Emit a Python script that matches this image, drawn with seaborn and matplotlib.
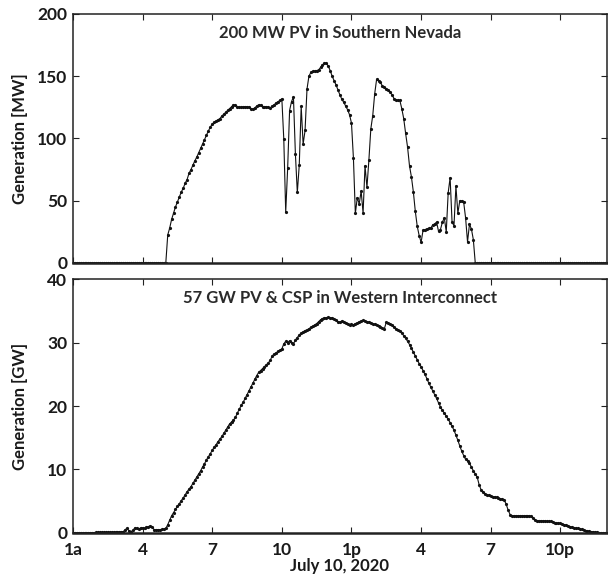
import numpy as np
import pandas as pd
import matplotlib
matplotlib.use("Agg")
import matplotlib.pyplot as plt
import seaborn as sns

# ---------------- data (5-minute samples, hour of day 1 .. 24) ----------------
n_points = 277
hours = 1 + np.arange(n_points) / 12.0

# Southern Nevada 200 MW PV [MW]; zero before 5:05 and after 18:15
nv_night_before = [0.0] * 49          # 1:00 .. 5:00
nv_day = [
    22.5, 28, 35, 40, 45, 49, 53, 57, 60, 64, 67,                      # 5:05-5:55
    72, 75, 78.5, 82, 85, 88.5, 92, 95.5, 99, 102.5, 106, 109,          # 6
    111.5, 113, 114, 115, 116, 118, 119.5, 121, 122.5, 124, 125.5, 127, # 7
    126.5, 125.5, 125, 125, 125.5, 125.5, 125.5, 125, 124, 123.5, 124.5, 126,  # 8
    127, 126.5, 125.5, 125.5, 125.5, 125, 124.5, 126, 127, 128.5, 129.5, 130.5, # 9
    131.8, 99.5, 40.9, 75.9, 122.4, 129.6, 133.2, 87.7, 56.6, 78.6, 125.7, 95.4, # 10
    106.4, 139.6, 150, 153, 154, 154, 154.5, 155, 157, 159, 160.5, 160.5,       # 11
    158, 154.5, 150, 146.5, 143, 139, 135, 131.5, 129, 126, 123, 119,           # 12
    112.3, 84.4, 39.8, 52.4, 47.5, 57.8, 40, 78, 60.7, 82.6, 107.7, 118.4,      # 13
    135.8, 147.5, 146.5, 145, 142, 141, 140, 139, 137, 135, 132, 131,           # 14
    130.5, 130.5, 124, 116, 104, 93, 78, 69, 57, 41.5, 29.5, 22,                # 15
    16.6, 26.3, 26.8, 27.4, 27.7, 28, 30.6, 31.4, 32.8, 25.5, 26.8, 32.8,       # 16
    36.2, 25, 56.4, 68.5, 32.8, 30, 61.7, 40, 50, 49.7, 48.9, 36.2,             # 17
    17, 31, 27.4, 18.8,                                                         # 18:00-18:15
]
nv_night_after = [0.0] * (n_points - len(nv_night_before) - len(nv_day))
nevada_mw = np.array(nv_night_before + nv_day + nv_night_after)

# Western Interconnect 57 GW PV & CSP [GW]
wecc_gw = np.array([
    0.02, 0.02, 0.03, 0.03, 0.03, 0.04, 0.04, 0.05, 0.05, 0.05, 0.06, 0.06,   # 1
    0.07, 0.07, 0.08, 0.08, 0.09, 0.1, 0.1, 0.1, 0.12, 0.12, 0.13, 0.15,      # 2
    0.15, 0.2, 0.2, 0.5, 0.75, 0.3, 0.2, 0.4, 0.8, 0.7, 0.6, 0.8,             # 3
    0.8, 0.7, 0.9, 1.0, 1.1, 0.9, 0.5, 0.5, 0.5, 0.5, 0.55, 0.6,              # 4
    0.7, 1.3, 2.0, 2.7, 3.2, 3.7, 4.2, 4.6, 5.1, 5.5, 6.0, 6.5,               # 5
    6.9, 7.3, 7.8, 8.3, 8.8, 9.3, 9.8, 10.4, 10.9, 11.5, 12.0, 12.5,          # 6
    13.0, 13.5, 13.9, 14.4, 14.8, 15.2, 15.7, 16.2, 16.7, 17.2, 17.5, 17.8,   # 7
    18.2, 18.9, 19.5, 20.1, 20.6, 21.2, 21.8, 22.4, 23.0, 23.6, 24.2, 24.8,   # 8
    25.3, 25.6, 25.9, 26.2, 26.5, 26.8, 27.2, 27.9, 28.2, 28.4, 28.6, 28.8,   # 9
    29.0, 29.8, 30.2, 30.0, 30.3, 30.0, 29.8, 30.4, 30.8, 31.2, 31.5, 31.7,   # 10
    31.9, 32.0, 32.2, 32.4, 32.6, 32.8, 33.0, 33.3, 33.6, 33.8, 33.9, 33.9,   # 11
    34.0, 33.9, 33.9, 33.7, 33.5, 33.3, 33.2, 33.4, 33.3, 33.1, 32.9, 32.8,   # 12
    32.9, 32.8, 33.0, 33.1, 33.3, 33.4, 33.5, 33.4, 33.3, 33.2, 33.1, 33.0,   # 13
    32.9, 32.8, 32.6, 32.5, 32.3, 32.2, 33.2, 33.1, 32.9, 32.7, 32.5, 32.2,   # 14
    32.0, 31.8, 31.5, 31.1, 30.7, 30.2, 29.7, 29.1, 28.5, 27.9, 27.3, 26.7,   # 15
    26.2, 25.6, 25.0, 24.3, 23.6, 23.0, 22.4, 21.8, 21.2, 20.5, 19.9, 19.3,   # 16
    18.9, 18.4, 17.9, 17.4, 16.8, 16.2, 15.4, 14.6, 13.7, 12.9, 12.2, 11.6,   # 17
    11.4, 11.0, 10.4, 9.8, 9.3, 8.8, 7.6, 6.8, 6.4, 6.2, 6.0, 5.9,            # 18
    5.8, 5.7, 5.7, 5.6, 5.5, 5.4, 5.3, 5.2, 4.5, 3.6, 2.9, 2.7,               # 19
    2.7, 2.7, 2.7, 2.7, 2.7, 2.7, 2.7, 2.7, 2.7, 2.6, 2.3, 2.0,               # 20
    1.95, 1.95, 1.9, 1.9, 1.9, 1.85, 1.85, 1.8, 1.7, 1.6, 1.6, 1.5,           # 21
    1.5, 1.4, 1.3, 1.2, 1.1, 1.0, 0.9, 0.8, 0.75, 0.7, 0.6, 0.55,             # 22
    0.45, 0.35, 0.3, 0.25, 0.2, 0.15, 0.1, 0.08, 0.06, 0.05, 0.04, 0.03,      # 23
    0.03,                                                                     # 24:00
])

tick_hours = [1, 4, 7, 10, 13, 16, 19, 22]
tick_labels = ["1a", "4", "7", "10", "1p", "4", "7", "10p"]

top_title = "200 MW PV in Southern Nevada"
bot_title = "57 GW PV & CSP in Western Interconnect"

df_top = pd.DataFrame({"hour": hours, "gen": nevada_mw})
df_bot = pd.DataFrame({"hour": hours, "gen": wecc_gw})

# ---------------- style ----------------
sns.set_theme(style="white")
plt.rcParams["font.family"] = ["Lato", "DejaVu Sans"]
plt.rcParams["font.weight"] = "bold"
plt.rcParams["axes.labelweight"] = "bold"
plt.rcParams["axes.edgecolor"] = "#222222"
plt.rcParams["axes.linewidth"] = 1.1

fig = plt.figure(figsize=(6.08, 5.78), dpi=100)
ax1 = fig.add_axes([0.120, 0.545, 0.878, 0.431])
ax2 = fig.add_axes([0.120, 0.078, 0.878, 0.439])

line_kw = dict(color="#111111", linewidth=0.8, marker="o", markersize=2.3,
               markeredgewidth=0, markerfacecolor="#111111")

sns.lineplot(data=df_top, x="hour", y="gen", ax=ax1, **line_kw)
sns.lineplot(data=df_bot, x="hour", y="gen", ax=ax2, **line_kw)

for ax, ymax, yt, ylab, ttl in [
    (ax1, 200, [0, 50, 100, 150, 200], "Generation [MW]", top_title),
    (ax2, 40, [0, 10, 20, 30, 40], "Generation [GW]", bot_title),
]:
    ax.set_xlim(1, 24)
    ax.set_ylim(0, ymax)
    ax.set_yticks(yt)
    ax.set_xticks(tick_hours)
    ax.tick_params(direction="in", length=4, width=0.8, color="#222222",
                   top=True, right=True, bottom=True, left=True,
                   labelsize=12.5, labelcolor="#1a1a1a")
    ax.tick_params(axis="y", pad=4)
    ax.tick_params(axis="x", pad=6.5)
    ax.set_ylabel(ylab, fontsize=12, fontweight="bold", color="#1a1a1a")
    ax.text(0.5, 0.925, ttl, transform=ax.transAxes, ha="center", va="center",
            fontsize=12, fontweight="bold", color="#2a2a2a")
    for sp in ax.spines.values():
        sp.set_visible(True)
    ax.spines["bottom"].set_linewidth(1.8)

ax1.set_xticklabels([])
ax1.set_xlabel("")
ax2.set_xticklabels(tick_labels)
ax2.set_xlabel("July 10, 2020", fontsize=12, fontweight="bold", color="#1a1a1a",
               labelpad=0)

for ax in (ax1, ax2):
    ax.yaxis.set_label_coords(-0.084, 0.5)

fig.savefig("out.png", dpi=100, facecolor="white")
